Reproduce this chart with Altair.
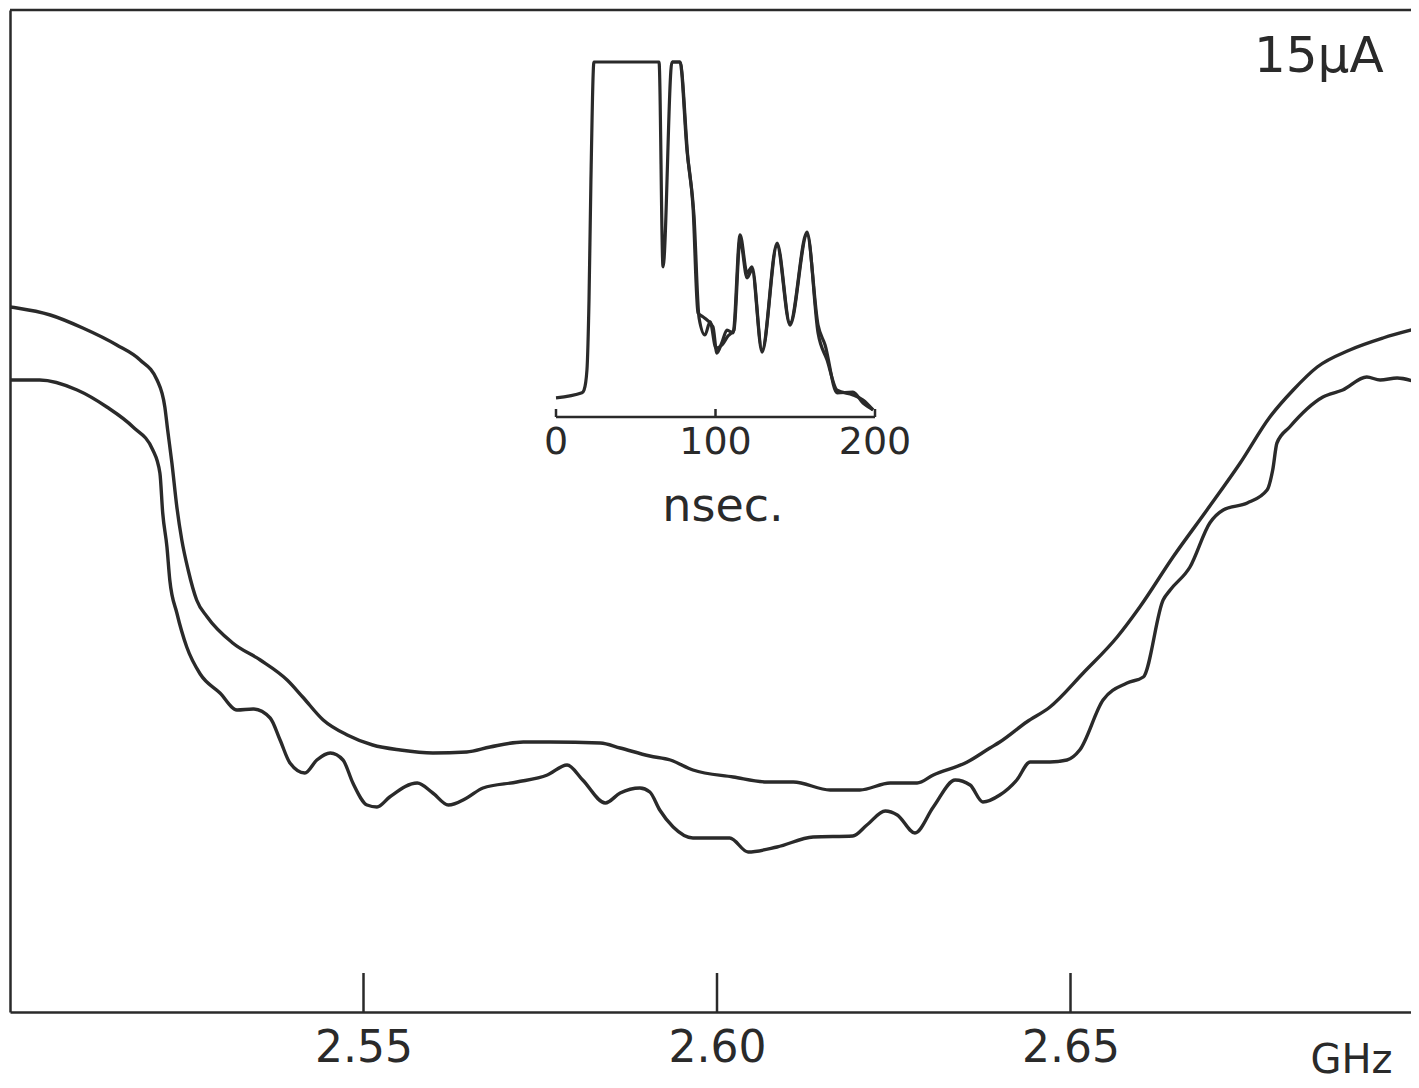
import altair as alt
import pandas as pd

INK = "#2a2a2a"
FONT = "DejaVu Sans"

# ---- main spectra (frequency in GHz, relative signal) ----
freq_upper = [2.5000, 2.5010, 2.5057, 2.5103, 2.5151, 2.5184, 2.5208, 2.5219, 2.5223, 2.5229,
              2.5236, 2.5243, 2.5252, 2.5264, 2.5279, 2.5315, 2.5354, 2.5392, 2.5414, 2.5443,
              2.5477, 2.5513, 2.5552, 2.5598, 2.5646, 2.5679, 2.5726, 2.5764, 2.5835, 2.5863,
              2.5905, 2.5934, 2.5966, 2.6023, 2.6071, 2.6108, 2.6160, 2.6202, 2.6245, 2.6283,
              2.6306, 2.6354, 2.6386, 2.6400, 2.6438, 2.6471, 2.6518, 2.6566, 2.6598, 2.6645,
              2.6693, 2.6740, 2.6782, 2.6815, 2.6849, 2.6895, 2.6942, 2.6993]
sig_upper = [70.5, 70.4, 69.7, 68.4, 66.7, 65.2, 63.2, 60.5, 58.2, 54.9,
             50.5, 47.2, 44.2, 41.2, 39.5, 36.9, 35.2, 33.2, 31.5, 29.2,
             27.7, 26.7, 26.2, 25.9, 26.0, 26.5, 27.0, 27.0, 26.9, 26.4,
             25.6, 25.2, 24.2, 23.5, 23.0, 23.0, 22.2, 22.2, 22.9, 22.9,
             23.7, 25.0, 26.4, 27.0, 29.0, 30.5, 33.9, 37.5, 40.5, 45.5,
             50.2, 54.9, 59.5, 62.2, 64.5, 66.2, 67.4, 68.4]

freq_lower = [2.5000, 2.5042, 2.5095, 2.5137, 2.5174, 2.5202, 2.5212, 2.5216, 2.5222, 2.5226,
              2.5236, 2.5250, 2.5269, 2.5297, 2.5321, 2.5344, 2.5368, 2.5382, 2.5396, 2.5417,
              2.5434, 2.5453, 2.5471, 2.5485, 2.5505, 2.5519, 2.5537, 2.5576, 2.5598, 2.5620,
              2.5646, 2.5669, 2.5717, 2.5760, 2.5788, 2.5810, 2.5842, 2.5863, 2.5891, 2.5905,
              2.5919, 2.5938, 2.5966, 2.6018, 2.6044, 2.6085, 2.6136, 2.6192, 2.6212, 2.6238,
              2.6255, 2.6280, 2.6306, 2.6337, 2.6358, 2.6376, 2.6400, 2.6424, 2.6443, 2.6471,
              2.6495, 2.6513, 2.6546, 2.6580, 2.6603, 2.6631, 2.6641, 2.6669, 2.6697, 2.6716,
              2.6750, 2.6778, 2.6786, 2.6792, 2.6810, 2.6857, 2.6885, 2.6919, 2.6938, 2.6962,
              2.6993]
sig_lower = [63.2, 63.2, 62.2, 60.5, 58.5, 56.2, 53.9, 49.9, 46.5, 43.2,
             39.9, 36.5, 33.8, 31.9, 30.2, 30.3, 29.4, 27.2, 24.9, 23.9,
             25.2, 25.9, 25.2, 22.9, 20.7, 20.5, 21.5, 22.9, 21.9, 20.7,
             21.4, 22.4, 23.0, 23.7, 24.7, 23.2, 20.9, 21.9, 22.4, 22.0,
             20.2, 18.5, 17.4, 17.4, 16.0, 16.5, 17.5, 17.6, 18.7, 20.1,
             19.7, 17.9, 20.5, 23.2, 22.7, 21.0, 21.7, 23.2, 25.0, 25.0,
             25.2, 26.2, 31.2, 32.9, 33.5, 41.2, 42.2, 44.5, 48.9, 50.2,
             50.9, 52.2, 54.2, 56.9, 58.5, 61.5, 62.2, 63.5, 63.2, 63.4,
             62.9]

freq_ticks = [2.55, 2.60, 2.65]

# ---- inset: time response (nsec, relative amplitude, clipped at 100) ----
t_a = [0.0, 16.3, 17.6, 19.4, 20.7, 21.9, 23.8, 64.6, 67.1, 72.7,
       77.7, 82.1, 85.9, 89.0, 92.2, 98.4, 100.9, 104.1, 107.2, 111.0,
       115.4, 119.8, 122.9, 129.2, 138.6, 146.7, 157.4, 164.3, 169.9, 176.2,
       186.2, 192.5, 198.8]
amp_a = [5.4, 6.8, 7.6, 13.2, 33.0, 66.8, 100.0, 100.0, 42.3, 100.0,
         100.0, 75.2, 59.2, 29.3, 28.2, 25.4, 18.0, 21.1, 24.5, 23.7,
         51.3, 40.6, 42.3, 18.9, 49.0, 26.5, 52.1, 23.7, 16.1, 7.6,
         6.2, 4.8, 2.0]

t_b = [72.7, 77.7, 82.8, 86.5, 89.7, 93.4, 96.6, 100.3, 104.1, 107.8,
       111.6, 115.4, 119.8, 122.9, 129.2, 138.6, 146.7, 157.4, 164.3, 168.7,
       176.2, 186.2, 192.5, 198.8]
amp_b = [100.0, 100.0, 72.4, 56.9, 27.9, 23.1, 26.8, 19.4, 20.3, 22.8,
         24.5, 49.9, 39.2, 41.4, 18.3, 48.2, 25.9, 51.3, 25.9, 20.3,
         6.8, 7.0, 3.9, 2.0]

inset_ticks = [0, 100, 200]

# ---------------- build tables ----------------
main_df = pd.concat([
    pd.DataFrame({"f": freq_upper, "v": sig_upper, "s": "upper"}),
    pd.DataFrame({"f": freq_lower, "v": sig_lower, "s": "lower"}),
])
inset_df = pd.concat([
    pd.DataFrame({"t": t_a, "a": amp_a, "s": "a"}),
    pd.DataFrame({"t": t_b, "a": amp_b, "s": "b"}),
])
ftick_df = pd.DataFrame({"f": freq_ticks})
itick_df = pd.DataFrame({"t": inset_ticks, "lab": [str(v) for v in inset_ticks]})
iaxis_df = pd.DataFrame({"t0": [inset_ticks[0]], "t1": [inset_ticks[-1]], "a": [0]})

W, H = 1401, 1002
xs = alt.Scale(domain=[2.5, 2.69816], nice=False, zero=False)
ys = alt.Scale(domain=[0, 100.2], nice=False, zero=False)
ixs = alt.Scale(domain=[0, 200], range=[546, 865], nice=False, zero=False)
iys = alt.Scale(domain=[0, 100], range=[407, 52], nice=False, zero=False)

x_axis = alt.Axis(values=freq_ticks, format=".2f", labelFontSize=44, labelFont=FONT,
                  labelColor=INK, tickSize=0, labelPadding=14,
                  domain=True, domainColor=INK, domainWidth=2.5, grid=False,
                  title="GHz", titleFont=FONT, titleFontSize=40, titleFontWeight="normal",
                  titleColor=INK, titleX=1300, titleY=48, titleAlign="left",
                  titleBaseline="middle", labelFlush=False)
y_axis = alt.Axis(domain=True, domainColor=INK, domainWidth=2.5, ticks=False,
                  labels=False, title=None, grid=False)

curves = alt.Chart(main_df).mark_line(
    interpolate="monotone", color=INK, strokeWidth=3.4, clip=True
).encode(
    x=alt.X("f:Q", scale=xs, axis=x_axis),
    y=alt.Y("v:Q", scale=ys, axis=y_axis),
    detail="s:N",
)
fticks = alt.Chart(ftick_df).mark_rule(color=INK, strokeWidth=2.5).encode(
    x=alt.X("f:Q", scale=xs, axis=x_axis),
    y=alt.value(H),
    y2=alt.value(H - 39),
)
top_edge = alt.Chart(pd.DataFrame({"k": [0]})).mark_rule(color=INK, strokeWidth=2.5).encode(
    x=alt.value(0), x2=alt.value(W), y=alt.value(0)
)
current = alt.Chart(pd.DataFrame({"t": ["15\u03bcA"]})).mark_text(
    font=FONT, fontSize=50, color=INK, align="left", baseline="middle"
).encode(x=alt.value(1244), y=alt.value(47), text="t:N")

main = alt.layer(curves, fticks, top_edge, current)

icurves = alt.Chart(inset_df).mark_line(interpolate="monotone", color=INK, strokeWidth=3.2).encode(
    x=alt.X("t:Q", scale=ixs, axis=None),
    y=alt.Y("a:Q", scale=iys, axis=None),
    detail="s:N",
)
iaxis = alt.Chart(iaxis_df).mark_rule(color=INK, strokeWidth=2.5).encode(
    x=alt.X("t0:Q", scale=ixs, axis=None),
    x2="t1:Q",
    y=alt.Y("a:Q", scale=iys, axis=None),
)
iticks = alt.Chart(itick_df).mark_rule(color=INK, strokeWidth=2.5).encode(
    x=alt.X("t:Q", scale=ixs, axis=None),
    y=alt.value(407),
    y2=alt.value(399),
)
ilabels = alt.Chart(itick_df).mark_text(font=FONT, fontSize=38, color=INK, baseline="middle").encode(
    x=alt.X("t:Q", scale=ixs, axis=None),
    y=alt.value(433),
    text="lab:N",
)
iunit = alt.Chart(pd.DataFrame({"t": ["nsec."]})).mark_text(
    font=FONT, fontSize=46, color=INK, baseline="middle"
).encode(x=alt.value(713), y=alt.value(497), text="t:N")

inset = alt.layer(icurves, iaxis, iticks, ilabels, iunit)

chart = alt.layer(main, inset).resolve_scale(x="independent", y="independent").properties(
    width=W, height=H,
    autosize=alt.AutoSizeParams(type="none"),
    padding={"left": 2, "top": 2, "right": 0, "bottom": 72},
    background="white",
).configure_view(strokeWidth=0).configure_axis(grid=False)

chart.save("out.html", embed_options={"renderer": "svg", "actions": False})
